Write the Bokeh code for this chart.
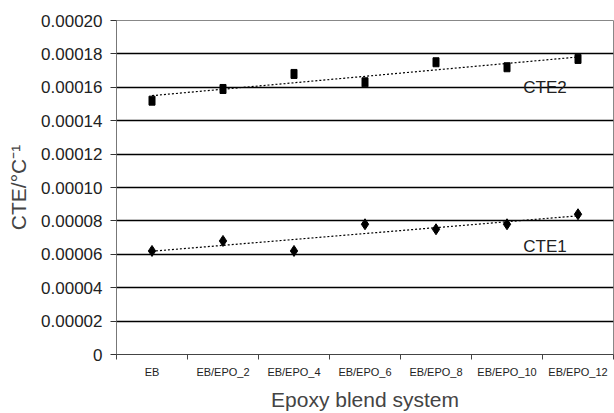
import numpy as np
from bokeh.plotting import figure
from bokeh.models import FixedTicker, ColumnDataSource, Label
from bokeh.embed import file_html
from bokeh.resources import INLINE

categories = ["EB", "EB/EPO_2", "EB/EPO_4", "EB/EPO_6", "EB/EPO_8", "EB/EPO_10", "EB/EPO_12"]
cte2 = [0.000152, 0.000159, 0.000168, 0.000163, 0.000175, 0.000172, 0.000177]
cte1 = [0.000062, 0.000068, 0.000062, 0.000078, 0.000075, 0.000078, 0.000084]
y_ticks = [0.0, 0.00002, 0.00004, 0.00006, 0.00008, 0.00010, 0.00012, 0.00014, 0.00016, 0.00018, 0.00020]

FONT = "Liberation Sans"

x = np.arange(len(categories)) + 0.5
boundaries = list(np.arange(len(categories) + 1).astype(float))

p = figure(width=614, height=413, output_backend="svg", toolbar_location=None,
           x_range=(0, len(categories)), y_range=(0, 0.0002),
           min_border_left=116, min_border_right=1, min_border_top=20, min_border_bottom=0)
p.outline_line_color = "#888888"
p.outline_line_width = 1

# horizontal gridlines in black, no vertical grid
p.xgrid.grid_line_color = None
p.ygrid.ticker = FixedTicker(ticks=y_ticks)
p.ygrid.grid_line_color = "black"
p.ygrid.grid_line_width = 1.4

# y axis
p.yaxis.ticker = FixedTicker(ticks=y_ticks)
p.yaxis.major_label_overrides = {t: ("0" if t == 0 else f"{t:.5f}") for t in y_ticks}
p.yaxis.axis_label = "CTE/°C⁻¹"
p.yaxis.axis_label_text_font = FONT
p.yaxis.axis_label_text_font_size = "21px"
p.yaxis.axis_label_text_font_style = "normal"
p.yaxis.axis_label_standoff = 8
p.yaxis.major_label_text_font = FONT
p.yaxis.major_label_text_font_size = "17px"
p.yaxis.major_label_text_color = "#222222"
p.yaxis.axis_line_color = "#777777"
p.yaxis.major_tick_line_color = "#333333"
p.yaxis.major_tick_in = 0
p.yaxis.major_tick_out = 6
p.yaxis.minor_tick_line_color = None
p.yaxis.major_label_standoff = 8

# x axis: labels centred on categories, tick marks on category boundaries
p.xaxis.ticker = FixedTicker(ticks=list(x), minor_ticks=boundaries)
p.xaxis.major_label_overrides = {float(v): c for v, c in zip(x, categories)}
p.xaxis.major_tick_line_color = None
p.xaxis.minor_tick_line_color = "#444444"
p.xaxis.minor_tick_in = 0
p.xaxis.minor_tick_out = 5
p.xaxis.axis_line_color = "#444444"
p.xaxis.major_label_text_font = FONT
p.xaxis.major_label_text_font_size = "11px"
p.xaxis.major_label_text_color = "#222222"
p.xaxis.major_label_standoff = 5
p.xaxis.axis_label = "Epoxy blend system"
p.xaxis.axis_label_text_font = FONT
p.xaxis.axis_label_text_font_size = "21px"
p.xaxis.axis_label_text_font_style = "normal"
p.xaxis.axis_label_standoff = 7

# linear trend lines
for series in (cte2, cte1):
    k, b = np.polyfit(x, series, 1)
    p.line([x[0], x[-1]], [k * x[0] + b, k * x[-1] + b],
           line_color="black", line_dash="2 2", line_width=1.2)

src = ColumnDataSource(dict(x=x, cte2=cte2, cte1=cte1))
p.rect(x="x", y="cte2", width=6, height=9, width_units="screen", height_units="screen",
       source=src, fill_color="black", line_color="black")
p.scatter(x="x", y="cte1", marker="diamond", size=11, source=src,
          fill_color="black", line_color="black")

for txt, yv in (("CTE2", 0.00016), ("CTE1", 0.0000648)):
    p.add_layout(Label(x=5.73, y=yv, text=txt, text_font=FONT, text_font_size="17px",
                       text_baseline="middle", text_color="#222222"))

open("out.html", "w").write(file_html(p, INLINE))
